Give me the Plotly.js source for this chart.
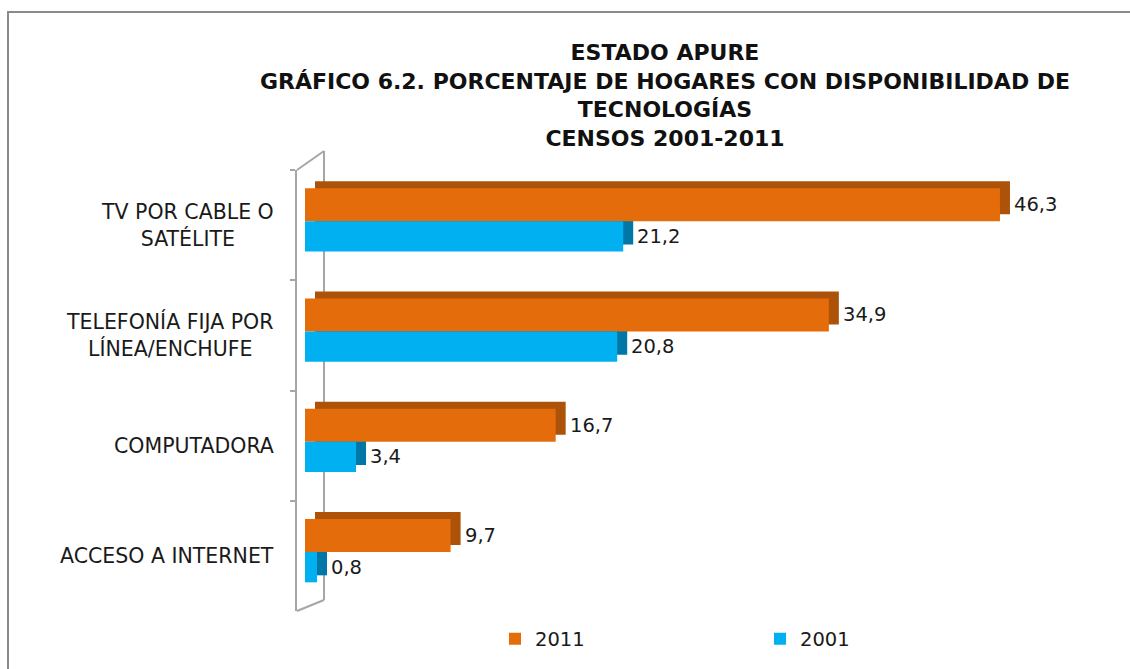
<!DOCTYPE html>
<html>
<head>
<meta charset="utf-8">
<script src="https://cdn.plot.ly/plotly-3.0.1.min.js"></script>
<style>
  html, body { margin:0; padding:0; background:#ffffff; }
  #frame { position:absolute; left:7px; top:11px; width:1200px; height:700px;
           border-top:2px solid #8a8a8a; border-left:2px solid #8a8a8a; }
  #chart { position:absolute; left:0; top:0; width:1130px; height:669px; }
</style>
</head>
<body>
<div id="frame"></div>
<div id="chart"></div>
<script>
// ---- data ----
const categories = ["TV POR CABLE O SATÉLITE", "TELEFONÍA FIJA POR LÍNEA/ENCHUFE", "COMPUTADORA", "ACCESO A INTERNET"];
const categoryLabels = ["TV POR CABLE O<br>SATÉLITE", "TELEFONÍA FIJA POR<br>LÍNEA/ENCHUFE", "COMPUTADORA", "ACCESO A INTERNET"];
const values2011 = [46.3, 34.9, 16.7, 9.7];
const values2001 = [21.2, 20.8, 3.4, 0.8];
const seriesNames = ["2011", "2001"];

// ---- layout geometry ----
const W = 1130, H = 669;
const mL = 297, mR = 75, mT = 170, mB = 58;
const plotW = W - mL - mR, plotH = H - mT - mB;
const pxPerUnit = 15.01;
const xmin = -8 / pxPerUnit;
const xmax = xmin + plotW / pxPerUnit;
const bandPx = plotH / categories.length;
const depthX = 10 / pxPerUnit;   // 3D depth, in x units
const depthY = 7 / bandPx;       // 3D depth, in category units

const orange = "#e46c0a", orangeDark = "#ad5209";
const blue = "#00b0f0", blueDark = "#0077a6";
const off11 = -0.335, w11 = 0.30;
const off01 = -0.035, w01 = 0.275;

const fontFam = "'DejaVu Sans', 'Open Sans', sans-serif";
const labelSize = 20.5;
const valueSize = 19.5;

function shadow(vals, off, w, color) {
  return { type:"bar", orientation:"h", y:categories, x:vals,
           base: vals.map(() => depthX), offset: off - depthY, width: w,
           marker:{color:color, line:{width:0}}, showlegend:false, hoverinfo:"skip" };
}
function front(vals, off, w, color, name) {
  return { type:"bar", orientation:"h", y:categories, x:vals, name:name,
           offset: off, width: w, marker:{color:color, line:{width:0}},
           hoverinfo:"skip" };
}

const traces = [
  shadow(values2011, off11, w11, orangeDark),
  shadow(values2001, off01, w01, blueDark),
  front(values2011, off11, w11, orange, seriesNames[0]),
  front(values2001, off01, w01, blue, seriesNames[1])
];

const annotations = [];
categories.forEach((c, i) => {
  annotations.push({ x:0, xref:"paper", xanchor:"right", xshift:-21,
    y:i, yref:"y", yanchor:"middle", align:"center", showarrow:false,
    text: categoryLabels[i], font:{family:fontFam, size:labelSize, color:"#1a1a1a"} });
  annotations.push({ x:values2011[i], xref:"x", xanchor:"left", xshift:12,
    y:i + off11 + w11/2, yref:"y", yanchor:"middle", showarrow:false,
    text: String(values2011[i]).replace(".", ","), font:{family:fontFam, size:valueSize, color:"#1a1a1a"} });
  annotations.push({ x:values2001[i], xref:"x", xanchor:"left", xshift:12,
    y:i + off01 + w01/2, yref:"y", yanchor:"middle", showarrow:false,
    text: String(values2001[i]).replace(".", ","), font:{family:fontFam, size:valueSize, color:"#1a1a1a"} });
});

// 3D wall decoration (pixel -> paper)
const px = x => (x - mL) / plotW;
const py = y => (H - mB - y) / plotH;
const wallLine = {color:"#a6a6a6", width:2};
const shapes = [
  {type:"line", xref:"paper", yref:"paper", x0:px(297), y0:py(170), x1:px(324), y1:py(151), line:wallLine, layer:"below"},
  {type:"line", xref:"paper", yref:"paper", x0:px(324), y0:py(151), x1:px(324), y1:py(600), line:wallLine, layer:"below"},
  {type:"line", xref:"paper", yref:"paper", x0:px(297), y0:py(611), x1:px(324), y1:py(600), line:wallLine, layer:"below"}
];

const layout = {
  width:W, height:H,
  margin:{l:mL, r:mR, t:mT, b:mB, pad:0},
  paper_bgcolor:"rgba(0,0,0,0)", plot_bgcolor:"rgba(0,0,0,0)",
  barmode:"overlay",
  font:{family:fontFam, color:"#1a1a1a"},
  title:{ text:"ESTADO APURE<br>GRÁFICO 6.2. PORCENTAJE DE HOGARES CON DISPONIBILIDAD DE<br>TECNOLOGÍAS<br>CENSOS 2001-2011",
          font:{family:fontFam, size:22, color:"#111", weight:"bold"},
          xref:"container", x:665/W, xanchor:"center",
          yref:"container", y:1 - 60/H, yanchor:"top" },
  xaxis:{ range:[xmin, xmax], visible:false, showgrid:false, zeroline:false, fixedrange:true },
  yaxis:{ type:"category", categoryorder:"array", categoryarray:categories,
          range:[categories.length - 0.5, -0.5],
          showticklabels:false, showgrid:false, zeroline:false,
          showline:true, linecolor:"#a6a6a6", linewidth:2,
          ticks:"outside", tickson:"boundaries", ticklen:5, tickcolor:"#a6a6a6", tickwidth:2,
          fixedrange:true },
  showlegend:true,
  legend:{ orientation:"h", xref:"container", yref:"container",
           x:(515 - 20)/W, xanchor:"left", y:1 - 639/H, yanchor:"middle",
           entrywidth:220, font:{family:fontFam, size:valueSize, color:"#1a1a1a"},
           bgcolor:"rgba(0,0,0,0)", traceorder:"normal" },
  annotations:annotations,
  shapes:shapes
};

Plotly.newPlot("chart", traces, layout, {displayModeBar:false, staticPlot:true});
</script>
</body>
</html>
